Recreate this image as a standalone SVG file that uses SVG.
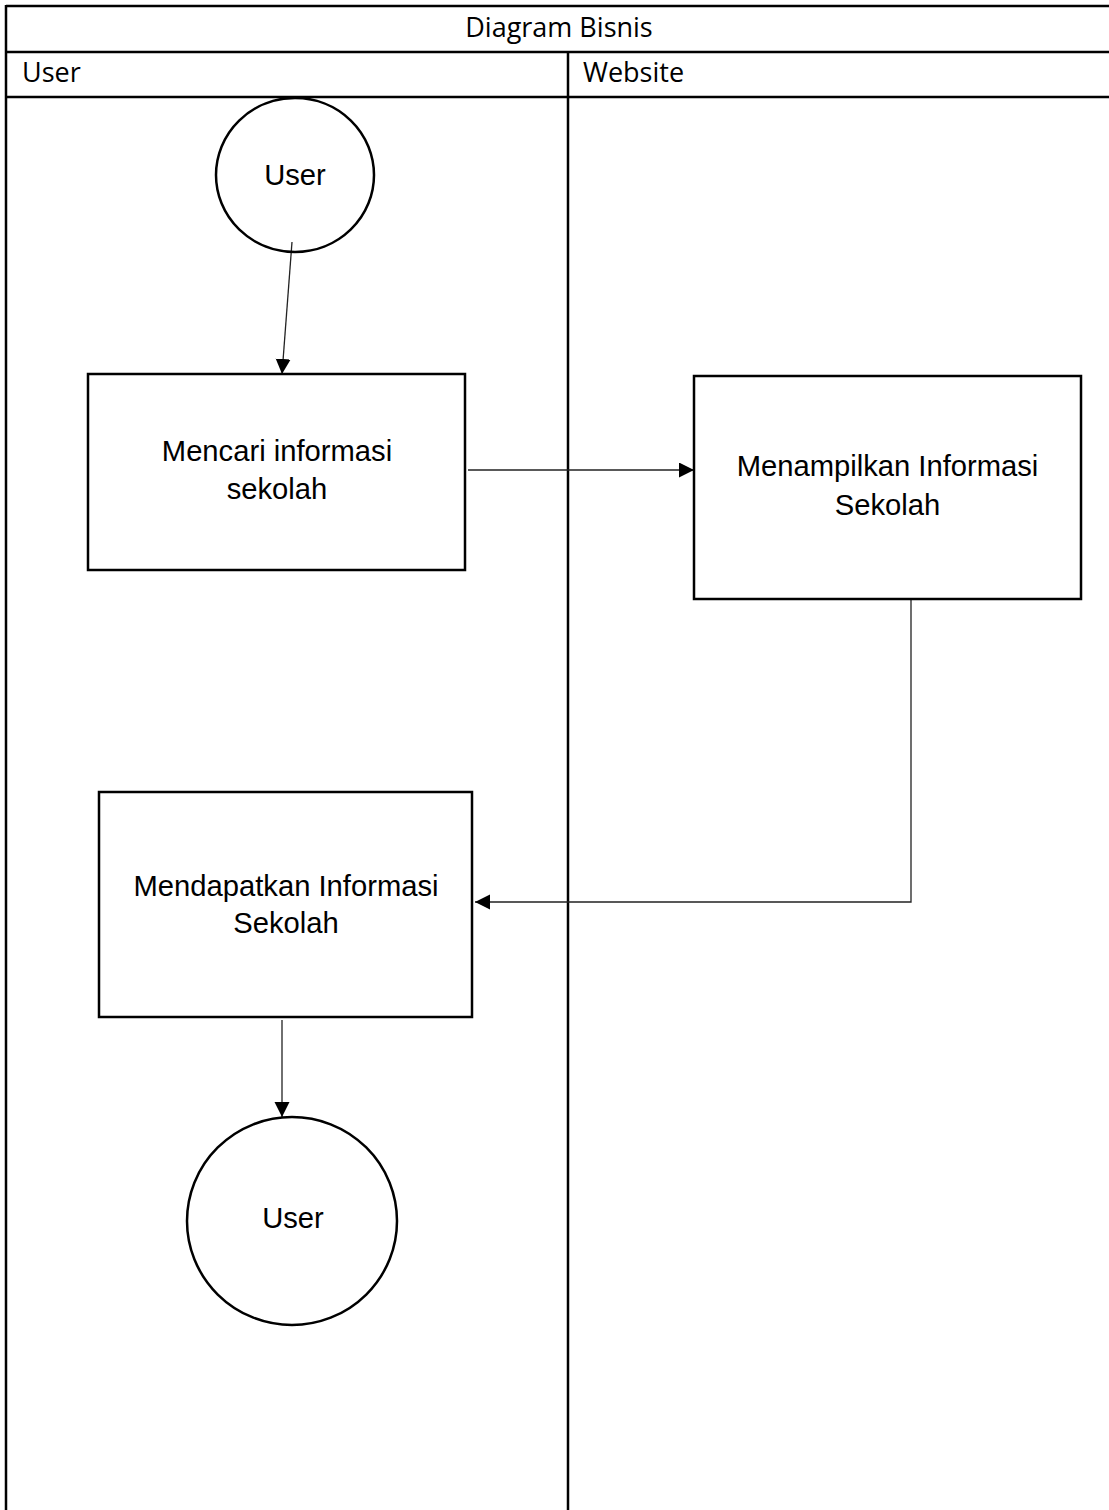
<svg xmlns="http://www.w3.org/2000/svg" width="1109" height="1510" viewBox="0 0 1109 1510">
<defs>
<style>
.tbl{stroke:#000;stroke-width:2.5;fill:none}
.hd{font-family:"Open Sans","Liberation Sans",sans-serif;font-size:27px;fill:#000}
.box{fill:none;stroke:#000;stroke-width:2.5}
.lbl{font-family:"Liberation Sans",Arial,sans-serif;font-size:29.2px;fill:#000;text-anchor:middle}
.con{stroke:#222;stroke-width:1.3;fill:none}
</style>
<marker id="arr" markerUnits="userSpaceOnUse" markerWidth="17" markerHeight="17" refX="15" refY="7.5" orient="auto">
<path d="M0,0 L15,7.5 L0,15 z" fill="#000"/>
</marker>
</defs>
<rect width="1109" height="1510" fill="#fff"/>
<g id="table">
<line class="tbl" x1="6" y1="6" x2="1109" y2="6"/>
<line class="tbl" x1="6" y1="52" x2="1109" y2="52"/>
<line class="tbl" x1="6" y1="97" x2="1109" y2="97"/>
<line class="tbl" x1="6" y1="5" x2="6" y2="1510"/>
<line class="tbl" x1="568" y1="52" x2="568" y2="1510"/>
<text class="hd" x="559" y="37" text-anchor="middle">Diagram Bisnis</text>
<text class="hd" x="22" y="82">User</text>
<text class="hd" x="583" y="82">Website</text>
</g>
<g id="connectors">
<line class="con" x1="292" y1="242" x2="282" y2="374" marker-end="url(#arr)"/>
<line class="con" x1="468" y1="470" x2="694" y2="470" marker-end="url(#arr)"/>
<polyline class="con" points="911,599 911,902 475,902" marker-end="url(#arr)"/>
<line class="con" x1="282" y1="1020" x2="282" y2="1117" marker-end="url(#arr)"/>
</g>
<g id="user-start">
<ellipse class="box" cx="295" cy="175" rx="79" ry="77"/>
<text class="lbl" x="295" y="185">User</text>
</g>
<g id="mencari">
<rect class="box" x="88" y="374" width="377" height="196"/>
<text class="lbl" x="277" y="461">Mencari informasi</text>
<text class="lbl" x="277" y="499">sekolah</text>
</g>
<g id="menampilkan">
<rect class="box" x="694" y="376" width="387" height="223"/>
<text class="lbl" x="887.5" y="476">Menampilkan Informasi</text>
<text class="lbl" x="887.5" y="515">Sekolah</text>
</g>
<g id="mendapatkan">
<rect class="box" x="99" y="792" width="373" height="225"/>
<text class="lbl" x="286" y="896">Mendapatkan Informasi</text>
<text class="lbl" x="286" y="933">Sekolah</text>
</g>
<g id="user-end">
<ellipse class="box" cx="292" cy="1221" rx="105" ry="104"/>
<text class="lbl" x="293" y="1228">User</text>
</g>
</svg>
